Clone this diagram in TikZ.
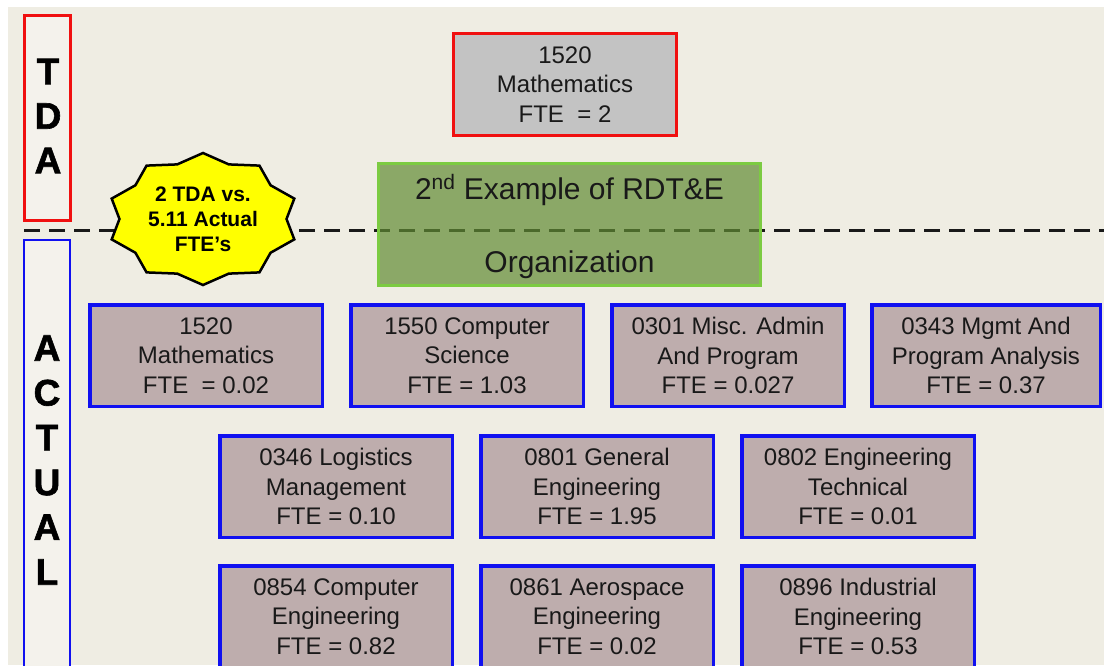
\documentclass[tikz,border=0pt]{standalone}
\usepackage{fontspec}
\setmainfont{Liberation Sans}
\newfontfamily\heavyfont{Liberation Sans Bold}[FakeBold=1.6]
\definecolor{bgbeige}{HTML}{EFEDE3}
\definecolor{sidefill}{HTML}{F4F2EC}
\definecolor{mauve}{HTML}{BEADAD}
\definecolor{grayfill}{HTML}{C3C3C3}
\definecolor{boxblue}{HTML}{1010F0}
\definecolor{boxred}{HTML}{F01010}
\definecolor{olivefill}{HTML}{618B33}
\definecolor{greenline}{HTML}{7CCB42}
\definecolor{staryellow}{HTML}{FFFF00}
\tikzset{
  fte/.style={draw=boxblue, line width=3.5pt, fill=mauve, minimum width=232.5pt, minimum height=101.5pt,
    inner sep=0pt, align=center, font=\fontsize{24}{29.5}\selectfont, text=black!90},
  tdabox/.style={draw=boxred, line width=3pt, fill=sidefill, inner sep=0pt},
  actbox/.style={draw=boxblue, line width=2pt, fill=sidefill, inner sep=0pt},
  sideletters/.style={align=center, font=\fontsize{37}{44.5}\selectfont\heavyfont, inner sep=0pt},
  divider/.style={line width=3pt, dash pattern=on 16pt off 9pt, black!90},
}
\begin{document}
\begin{tikzpicture}[x=1pt,y=-1pt]
\useasboundingbox (0,0) rectangle (1104,665);
\clip (0,0) rectangle (1104,665);
\fill[white] (0,0) rectangle (1104,665);
\fill[bgbeige] (8,7) rectangle (1104,665);

% side labels
\node[tdabox, minimum width=46pt, minimum height=205pt] (tdab) at (47.5,118) {};
\node[sideletters] (tdat) at (48,116) {T\\D\\A};
\node[actbox, minimum width=46pt, minimum height=460pt] (actb) at (47,470) {};
\node[sideletters, font=\fontsize{37}{44.8}\selectfont\heavyfont] (actt) at (47,460) {A\\C\\T\\U\\A\\L};

% dashed divider
\coordinate (dl) at (24,230);
\coordinate (dr) at (1104,230);
\draw[divider] (dl) -- (dr);

% title box
\node[draw=greenline, line width=3pt, fill=olivefill, fill opacity=0.7, minimum width=382pt, minimum height=122pt, inner sep=0pt] (title) at (569.5,224.5) {};
\node[font=\fontsize{30}{36}\selectfont, text=black!90] (title1) at (569.5,190) {2\textsuperscript{nd} Example of RDT\&E};
\node[font=\fontsize{30}{36}\selectfont, text=black!90] (title2) at (569.5,265) {Organization};

% starburst
\draw[fill=staryellow, line width=2.5pt, line join=miter]
  plot[variable=\t, samples at={90,108,...,432}]
  ({203+96*(1-0.13*mod(round(\t-90),36)/18)*cos(\t)}, {219-66*(1-0.13*mod(round(\t-90),36)/18)*sin(\t)}) -- cycle;
\node[align=center, font=\fontsize{21}{25}\selectfont\bfseries, inner sep=0pt] (burst) at (203,219) {2 TDA vs.\\5.11 Actual\\FTE’s};

% TDA box
\node[fte, draw=boxred, line width=3pt, fill=grayfill, minimum width=223pt, minimum height=102pt] (tda) at (565,84.5) {1520\\Mathematics\\FTE \ = 2};

% row 1
\node[fte] (b1) at (206,355.5) {1520\\Mathematics\\FTE \ = 0.02};
\node[fte] (b2) at (467,355.5) {1550 Computer\\Science\\FTE = 1.03};
\node[fte] (b3) at (728,355.5) {0301 Misc. Admin\\And Program\\FTE = 0.027};
\node[fte, minimum width=228.5pt] (b4) at (986,355.5) {0343 Mgmt And\\Program Analysis\\FTE = 0.37};

% row 2
\node[fte] (b5) at (336,486.5) {0346 Logistics\\Management\\FTE = 0.10};
\node[fte] (b6) at (597,486.5) {0801 General\\Engineering\\FTE = 1.95};
\node[fte] (b7) at (858,486.5) {0802 Engineering\\Technical\\FTE = 0.01};

% row 3
\node[fte] (b8) at (336,616.5) {0854 Computer\\Engineering\\FTE = 0.82};
\node[fte] (b9) at (597,616.5) {0861 Aerospace\\Engineering\\FTE = 0.02};
\node[fte] (b10) at (858,616.5) {0896 Industrial\\Engineering\\FTE = 0.53};
\end{tikzpicture}
\end{document}
